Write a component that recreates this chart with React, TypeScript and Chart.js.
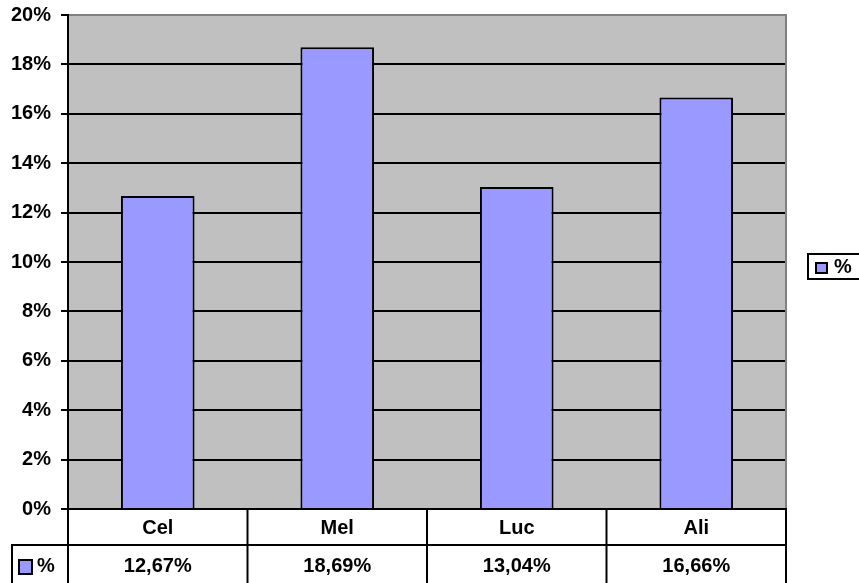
import React, { useEffect, useRef } from "react";
import { Chart, registerables } from "chart.js";

Chart.register(...registerables);

const categories = ["Cel", "Mel", "Luc", "Ali"];
const seriesLabel = "%";
const values = [12.67, 18.69, 13.04, 16.66];
const valueLabels = ["12,67%", "18,69%", "13,04%", "16,66%"];
const yMax = 20;
const yStep = 2;

const FAMILY = "'Liberation Sans', Arial, sans-serif";
const FONT = "bold 20px " + FAMILY;
const BAR_COLOR = "#9999FF";

const tablePlugin = {
  id: "excelTable",
  beforeDraw(chart: any) {
    const { ctx, chartArea } = chart;
    ctx.save();
    ctx.fillStyle = "#C0C0C0";
    ctx.fillRect(chartArea.left, chartArea.top, chartArea.right - chartArea.left, chartArea.bottom - chartArea.top);
    ctx.restore();
  },
  afterDraw(chart: any) {
    const { ctx, chartArea } = chart;
    const xs = chart.scales.x;
    const L = chartArea.left, R = chartArea.right, T = chartArea.top, B = chartArea.bottom;
    const row1 = B + 36;
    const row2 = B + 76;
    const tableLeft = 12;
    ctx.save();
    // plot borders top/right gray
    ctx.strokeStyle = "#808080";
    ctx.lineWidth = 2;
    ctx.beginPath();
    ctx.moveTo(L, T);
    ctx.lineTo(R, T);
    ctx.lineTo(R, B);
    ctx.stroke();
    // left axis black
    ctx.strokeStyle = "#000";
    ctx.beginPath();
    ctx.moveTo(L, T - 1);
    ctx.lineTo(L, B);
    ctx.stroke();
    // table lines
    ctx.beginPath();
    ctx.moveTo(L - 1, B); ctx.lineTo(R + 1, B);
    ctx.moveTo(tableLeft - 1, row1); ctx.lineTo(R + 1, row1);
    ctx.moveTo(tableLeft - 1, row2); ctx.lineTo(R + 1, row2);
    ctx.moveTo(tableLeft, row1); ctx.lineTo(tableLeft, row2);
    const n = categories.length;
    const cw = (R - L) / n;
    for (let i = 0; i <= n; i++) {
      const x = L + cw * i;
      ctx.moveTo(x, B); ctx.lineTo(x, row2);
    }
    ctx.stroke();
    // texts
    ctx.fillStyle = "#000";
    ctx.font = FONT;
    ctx.textAlign = "center";
    ctx.textBaseline = "middle";
    categories.forEach((c, i) => {
      const x = xs.getPixelForTick(i);
      ctx.fillText(c, x, (B + row1) / 2 + 1);
      ctx.fillText(valueLabels[i], x, row1 + 21);
    });
    // legend key in table
    ctx.fillStyle = BAR_COLOR;
    ctx.fillRect(19, row1 + 15, 13, 14);
    ctx.strokeStyle = "#000";
    ctx.lineWidth = 2;
    ctx.strokeRect(19, row1 + 15, 13, 14);
    ctx.fillStyle = "#000";
    ctx.textAlign = "left";
    ctx.fillText(seriesLabel, 37, row1 + 21);
    // right legend
    const lx = 808, ly = 254, lw = 60, lh = 25;
    ctx.lineWidth = 2;
    ctx.strokeRect(lx, ly, lw, lh);
    ctx.fillStyle = BAR_COLOR;
    ctx.fillRect(lx + 8, ly + 9, 11, 10);
    ctx.lineWidth = 2;
    ctx.strokeRect(lx + 8, ly + 9, 11, 10);
    ctx.fillStyle = "#000";
    ctx.fillText(seriesLabel, lx + 26, ly + lh / 2 + 1);
    ctx.restore();
  },
};

export default function App() {
  const ref = useRef<HTMLCanvasElement>(null);
  useEffect(() => {
    document.body.style.margin = "0";
    const chart = new Chart(ref.current!, {
      type: "bar",
      data: {
        labels: categories,
        datasets: [
          {
            label: seriesLabel,
            data: values,
            backgroundColor: BAR_COLOR,
            borderColor: "#000",
            borderWidth: 2,
            barPercentage: 0.41,
            categoryPercentage: 1,
          },
        ],
      },
      options: {
        animation: false,
        responsive: false,
        layout: { padding: { left: 0, top: 15, right: 73, bottom: 74 } },
        plugins: { legend: { display: false }, tooltip: { enabled: false } },
        scales: {
          x: {
            display: false,
          },
          y: {
            min: 0,
            max: yMax,
            ticks: {
              stepSize: yStep,
              color: "#000",
              font: { family: FAMILY, size: 20, weight: "bold" },
              padding: 10,
              callback: (v: any) => v + "%",
            },
            grid: { color: "#000", lineWidth: 2, tickLength: 7, drawTicks: true },
            border: { display: false },
            afterFit: (s: any) => {
              s.width = 68;
              s.paddingTop = 0;
              s.paddingBottom = 0;
            },
          },
        },
      },
      plugins: [tablePlugin],
    });
    return () => chart.destroy();
  }, []);
  return <canvas ref={ref} width={859} height={583} style={{ display: "block" }} />;
}
